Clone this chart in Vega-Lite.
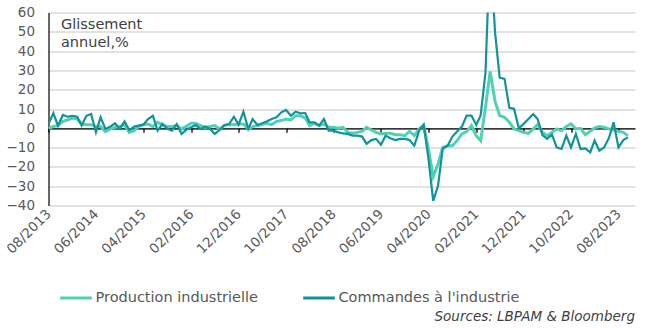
{
  "$schema": "https://vega.github.io/schema/vega-lite/v6.json",
  "width": 586.5,
  "height": 193,
  "autosize": {"type": "none"},
  "padding": {"left": 48.5, "top": 12.5, "right": 21, "bottom": 122.5},
  "background": "white",
  "config": {"view": {"stroke": null}, "font": "DejaVu Sans"},
  "data": {"values": [
    {"d":"2013-08-01","P":0,"C":2.2},{"d":"2013-09-01","P":0.9,"C":7.8},{"d":"2013-10-01","P":1.4,"C":1.4},{"d":"2013-11-01","P":3.6,"C":6.9},{"d":"2013-12-01","P":4.3,"C":6.0},
    {"d":"2014-01-01","P":5.3,"C":6.5},{"d":"2014-02-01","P":4.8,"C":6.0},{"d":"2014-03-01","P":2.2,"C":1.4},{"d":"2014-04-01","P":1.9,"C":6.5},{"d":"2014-05-01","P":1.9,"C":7.4},{"d":"2014-06-01","P":0.9,"C":-2.1},{"d":"2014-07-01","P":0.9,"C":5.7},{"d":"2014-08-01","P":-1.7,"C":-0.3},{"d":"2014-09-01","P":-0.3,"C":0.9},{"d":"2014-10-01","P":0.5,"C":2.6},{"d":"2014-11-01","P":0.9,"C":-0.3},{"d":"2014-12-01","P":1.9,"C":3.6},
    {"d":"2015-01-01","P":-2.1,"C":-0.9},{"d":"2015-02-01","P":-1.2,"C":0.9},{"d":"2015-03-01","P":0.9,"C":1.4},{"d":"2015-04-01","P":1.9,"C":1.9},{"d":"2015-05-01","P":2.2,"C":4.8},{"d":"2015-06-01","P":0.9,"C":6.5},{"d":"2015-07-01","P":3.1,"C":-1.2},{"d":"2015-08-01","P":1.9,"C":2.2},{"d":"2015-09-01","P":0.9,"C":-0.3},{"d":"2015-10-01","P":0.9,"C":-1.2},{"d":"2015-11-01","P":1.4,"C":2.2},{"d":"2015-12-01","P":-0.3,"C":-2.9},
    {"d":"2016-01-01","P":1.0,"C":-0.8},{"d":"2016-02-01","P":2.6,"C":0.5},{"d":"2016-03-01","P":2.6,"C":1.7},{"d":"2016-04-01","P":1.4,"C":-0.3},{"d":"2016-05-01","P":0.5,"C":0.9},{"d":"2016-06-01","P":0.9,"C":-0.3},{"d":"2016-07-01","P":1.4,"C":-2.9},{"d":"2016-08-01","P":-0.3,"C":-0.9},{"d":"2016-09-01","P":1.4,"C":1.7},{"d":"2016-10-01","P":1.9,"C":2.2},{"d":"2016-11-01","P":1.9,"C":6.0},{"d":"2016-12-01","P":2.2,"C":1.9},
    {"d":"2017-01-01","P":2.2,"C":8.6},{"d":"2017-02-01","P":-0.3,"C":-0.3},{"d":"2017-03-01","P":0.9,"C":4.8},{"d":"2017-04-01","P":1.4,"C":1.7},{"d":"2017-05-01","P":1.9,"C":2.6},{"d":"2017-06-01","P":2.6,"C":3.6},{"d":"2017-07-01","P":1.9,"C":4.8},{"d":"2017-08-01","P":3.6,"C":5.7},{"d":"2017-09-01","P":4.0,"C":8.3},{"d":"2017-10-01","P":4.8,"C":9.5},{"d":"2017-11-01","P":4.3,"C":6.5},{"d":"2017-12-01","P":6.5,"C":8.6},
    {"d":"2018-01-01","P":6.5,"C":7.8},{"d":"2018-02-01","P":5.3,"C":7.9},{"d":"2018-03-01","P":1.4,"C":3.1},{"d":"2018-04-01","P":2.6,"C":3.1},{"d":"2018-05-01","P":1.4,"C":1.4},{"d":"2018-06-01","P":2.2,"C":4.8},{"d":"2018-07-01","P":0.5,"C":-1.2},{"d":"2018-08-01","P":0.5,"C":-1.2},{"d":"2018-09-01","P":0,"C":-2.1},{"d":"2018-10-01","P":0.5,"C":-2.6},{"d":"2018-11-01","P":-2.1,"C":-2.9},{"d":"2018-12-01","P":-2.6,"C":-3.8},
    {"d":"2019-01-01","P":-2.1,"C":-3.8},{"d":"2019-02-01","P":-1.6,"C":-4.3},{"d":"2019-03-01","P":0.5,"C":-8.1},{"d":"2019-04-01","P":-0.9,"C":-6.1},{"d":"2019-05-01","P":-2.1,"C":-5.5},{"d":"2019-06-01","P":-2.9,"C":-8.5},{"d":"2019-07-01","P":-2.6,"C":-3.8},{"d":"2019-08-01","P":-2.6,"C":-5.2},{"d":"2019-09-01","P":-3.3,"C":-6.1},{"d":"2019-10-01","P":-3.3,"C":-5.5},{"d":"2019-11-01","P":-3.8,"C":-5.5},{"d":"2019-12-01","P":-1.6,"C":-6.1},
    {"d":"2020-01-01","P":-3.8,"C":-9.0},{"d":"2020-02-01","P":-0.3,"C":-1.2},{"d":"2020-03-01","P":1.4,"C":1.9},{"d":"2020-04-01","P":-11,"C":-16},{"d":"2020-05-01","P":-25,"C":-37.6},{"d":"2020-06-01","P":-18.5,"C":-29.8},{"d":"2020-07-01","P":-9.9,"C":-10.7},{"d":"2020-08-01","P":-9,"C":-9.0},{"d":"2020-09-01","P":-9,"C":-4.3},{"d":"2020-10-01","P":-6.4,"C":-1.7},{"d":"2020-11-01","P":-2.9,"C":0.9},{"d":"2020-12-01","P":-1.7,"C":6.6},
    {"d":"2021-01-01","P":1.4,"C":6.6},{"d":"2021-02-01","P":-3.8,"C":1.7},{"d":"2021-03-01","P":-6.4,"C":6.6},{"d":"2021-04-01","P":10.9,"C":29},{"d":"2021-05-01","P":29.5,"C":95},{"d":"2021-06-01","P":14,"C":50},{"d":"2021-07-01","P":6.6,"C":26.2},{"d":"2021-08-01","P":5.7,"C":25.6},{"d":"2021-09-01","P":3.1,"C":10.6},{"d":"2021-10-01","P":-0.3,"C":10.1},{"d":"2021-11-01","P":-1.2,"C":0},{"d":"2021-12-01","P":-2.1,"C":2.3},
    {"d":"2022-01-01","P":-2.6,"C":4.8},{"d":"2022-02-01","P":-0.3,"C":7.4},{"d":"2022-03-01","P":1.9,"C":4.8},{"d":"2022-04-01","P":-2.1,"C":-3.5},{"d":"2022-05-01","P":-3.8,"C":-5.5},{"d":"2022-06-01","P":-2.1,"C":-3.3},{"d":"2022-07-01","P":-0.3,"C":-9.9},{"d":"2022-08-01","P":-1.2,"C":-10.7},{"d":"2022-09-01","P":0.9,"C":-3.8},{"d":"2022-10-01","P":2.3,"C":-9.9},{"d":"2022-11-01","P":-0.3,"C":-2.9},{"d":"2022-12-01","P":0,"C":-10.7},
    {"d":"2023-01-01","P":-3.3,"C":-10.4},{"d":"2023-02-01","P":-1.6,"C":-12.5},{"d":"2023-03-01","P":0.2,"C":-6.4},{"d":"2023-04-01","P":0.9,"C":-11.6},{"d":"2023-05-01","P":0.5,"C":-9.9},{"d":"2023-06-01","P":-0.3,"C":-5},{"d":"2023-07-01","P":-0.9,"C":3.1},{"d":"2023-08-01","P":-1.6,"C":-9.9},{"d":"2023-09-01","P":-2.1,"C":-6.1},{"d":"2023-10-01","P":-3.8,"C":-4.7}
  ]},
  "layer": [
    {
      "transform": [{"fold": ["P", "C"], "as": ["k", "v"]}, {"filter": "datum.k == 'P'"}],
      "mark": {"type": "line", "strokeWidth": 3, "clip": true},
      "encoding": {
        "x": {"field": "d", "type": "temporal",
          "scale": {"type": "utc", "domain": [{"year": 2013, "month": 8, "date": 1, "utc": true}, {"year": 2023, "month": 11, "date": 15, "utc": true}]},
          "axis": {"orient": "bottom", "values": [
            {"year": 2013, "month": 8, "date": 1, "utc": true},{"year": 2014, "month": 6, "date": 1, "utc": true},{"year": 2015, "month": 4, "date": 1, "utc": true},{"year": 2016, "month": 2, "date": 1, "utc": true},{"year": 2016, "month": 12, "date": 1, "utc": true},{"year": 2017, "month": 10, "date": 1, "utc": true},{"year": 2018, "month": 8, "date": 1, "utc": true},{"year": 2019, "month": 6, "date": 1, "utc": true},{"year": 2020, "month": 4, "date": 1, "utc": true},{"year": 2021, "month": 2, "date": 1, "utc": true},{"year": 2021, "month": 12, "date": 1, "utc": true},{"year": 2022, "month": 10, "date": 1, "utc": true},{"year": 2023, "month": 8, "date": 1, "utc": true}],
            "offset": -77.2, "domain": true, "domainColor": "#000000", "domainWidth": 1.3,
            "ticks": true, "tickColor": "#000000", "tickSize": 4, "tickWidth": 1.3,
            "labels": false, "grid": false, "title": null}},
        "y": {"field": "v", "type": "quantitative",
          "scale": {"domain": [-40, 60], "nice": false, "zero": false},
          "axis": {"values": [-40, -30, -20, -10, 0, 10, 20, 30, 40, 50, 60], "title": null,
            "domain": true, "domainColor": "#000000", "domainWidth": 1.2, "ticks": false,
            "labelPadding": 14, "labelFontSize": 13.5, "labelColor": "#595959", "labelFont": "DejaVu Sans",
            "grid": true, "gridColor": "#d9d9d9", "gridWidth": 1.3}},
        "color": {"field": "k", "type": "nominal",
          "scale": {"domain": ["P", "C"], "range": ["#4fd1b4", "#12939a"]},
          "legend": {"orient": "none", "legendX": 10, "legendY": 268, "direction": "horizontal", "title": null,
            "symbolType": "stroke", "symbolSize": 1000, "symbolStrokeWidth": 3,
            "labelFontSize": 14.5, "labelColor": "#595959", "labelFont": "DejaVu Sans", "labelLimit": 400,
            "columnPadding": 38, "labelOffset": 2, "padding": 0,
            "labelExpr": "datum.value == 'P' ? 'Production industrielle' : \"Commandes à l'industrie\""}}
      }
    },
    {
      "transform": [{"fold": ["P", "C"], "as": ["k", "v"]}, {"filter": "datum.k == 'C'"}],
      "mark": {"type": "line", "strokeWidth": 2.2, "clip": true},
      "encoding": {
        "x": {"field": "d", "type": "temporal",
          "scale": {"type": "utc", "domain": [{"year": 2013, "month": 8, "date": 1, "utc": true}, {"year": 2023, "month": 11, "date": 15, "utc": true}]},
          "axis": {"orient": "bottom", "values": [
            {"year": 2013, "month": 8, "date": 1, "utc": true},{"year": 2014, "month": 6, "date": 1, "utc": true},{"year": 2015, "month": 4, "date": 1, "utc": true},{"year": 2016, "month": 2, "date": 1, "utc": true},{"year": 2016, "month": 12, "date": 1, "utc": true},{"year": 2017, "month": 10, "date": 1, "utc": true},{"year": 2018, "month": 8, "date": 1, "utc": true},{"year": 2019, "month": 6, "date": 1, "utc": true},{"year": 2020, "month": 4, "date": 1, "utc": true},{"year": 2021, "month": 2, "date": 1, "utc": true},{"year": 2021, "month": 12, "date": 1, "utc": true},{"year": 2022, "month": 10, "date": 1, "utc": true},{"year": 2023, "month": 8, "date": 1, "utc": true}],
            "format": "%m/%Y", "labelAngle": -45, "labelAlign": "right", "labelBaseline": "middle",
            "domain": false, "ticks": false, "grid": false, "labelPadding": 6,
            "labelFontSize": 13.5, "labelColor": "#595959", "labelFont": "DejaVu Sans",
            "labelFlush": false, "labelOverlap": false, "labelBound": false, "title": null}},
        "y": {"field": "v", "type": "quantitative",
          "scale": {"domain": [-40, 60], "nice": false, "zero": false},
          "axis": {"values": [-40, -30, -20, -10, 0, 10, 20, 30, 40, 50, 60], "title": null,
            "domain": true, "domainColor": "#000000", "domainWidth": 1.2, "ticks": false,
            "labelPadding": 14, "labelFontSize": 13.5, "labelColor": "#595959", "labelFont": "DejaVu Sans",
            "grid": true, "gridColor": "#d9d9d9", "gridWidth": 1.3}},
        "color": {"field": "k", "type": "nominal",
          "scale": {"domain": ["P", "C"], "range": ["#4fd1b4", "#12939a"]}}
      }
    },
    {
      "data": {"values": [{"label": "Glissement\nannuel,%"}]},
      "mark": {"type": "text", "align": "left", "baseline": "alphabetic", "fontSize": 14.5, "lineHeight": 18.5, "lineBreak": "\n", "font": "DejaVu Sans", "color": "#404040"},
      "encoding": {
        "x": {"datum": {"year": 2013, "month": 10, "date": 20, "utc": true}, "type": "temporal", "axis": null},
        "y": {"datum": 51.5, "type": "quantitative",
          "scale": {"domain": [-40, 60], "nice": false, "zero": false},
          "axis": {"values": [-40, -30, -20, -10, 0, 10, 20, 30, 40, 50, 60], "title": null,
            "domain": true, "domainColor": "#000000", "domainWidth": 1.2, "ticks": false,
            "labelPadding": 14, "labelFontSize": 13.5, "labelColor": "#595959", "labelFont": "DejaVu Sans",
            "grid": true, "gridColor": "#d9d9d9", "gridWidth": 1.3}},
        "text": {"field": "label"}
      }
    }
  ],
  "resolve": {"axis": {"x": "independent"}},
  "title": {"text": "Sources: LBPAM & Bloomberg", "orient": "bottom", "anchor": "end", "fontStyle": "italic", "fontWeight": "normal", "fontSize": 13.5, "color": "#404040", "font": "DejaVu Sans", "offset": 5}
}
